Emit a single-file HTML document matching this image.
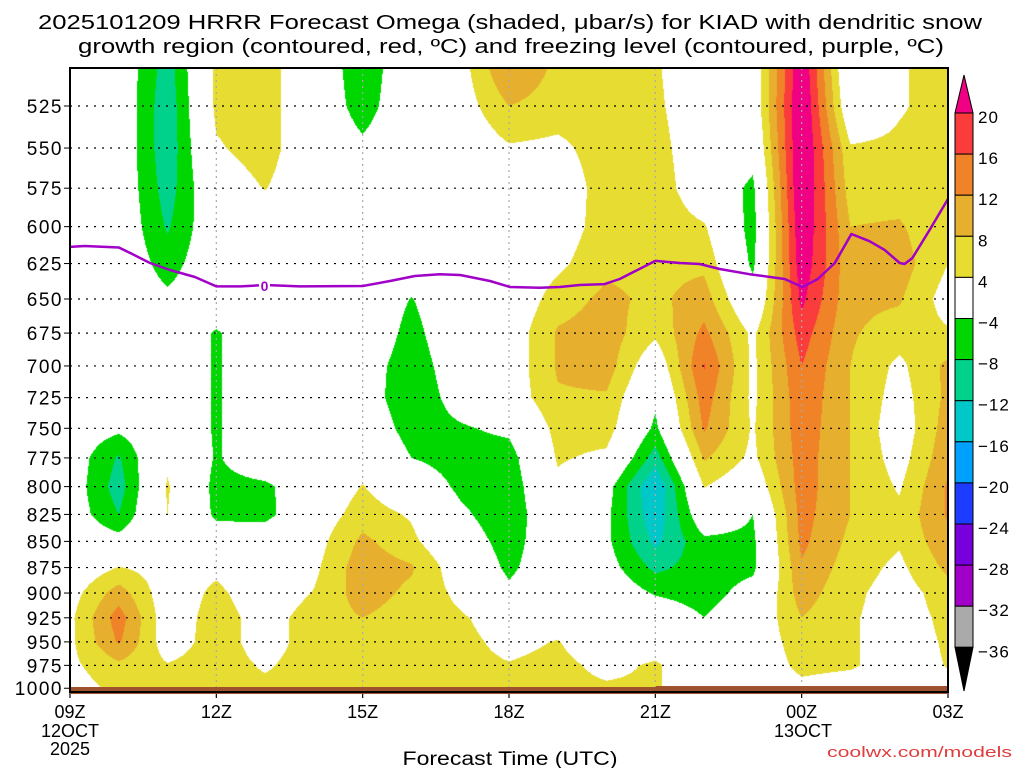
<!DOCTYPE html>
<html><head><meta charset="utf-8"><style>
html,body{margin:0;padding:0;background:#fff;}
#wrap{position:relative;width:1024px;height:768px;overflow:hidden;font-family:"Liberation Sans",sans-serif;}
#field{position:absolute;left:70px;top:68px;}
#ov{position:absolute;left:0;top:0;}
</style></head><body>
<div id="wrap">
<canvas id="field" width="878" height="624"></canvas>
<svg id="ov" width="1024" height="768"></svg>
</div>
<script>
// ---- data ----
const levels = [500,525,550,575,600,625,650,675,700,725,750,775,800,825,850,875,900,925,950,975,1000];
const hourLabels = ["09Z","12Z","15Z","18Z","21Z","00Z","03Z"];
const yTickLevels = [525,550,575,600,625,650,675,700,725,750,775,800,825,850,875,900,925,950,975,1000];
const cbBounds = [20,16,12,8,4,-4,-8,-12,-16,-20,-24,-28,-32,-36];
const h00 = [0,0,0,0,0,0,0,0,0,0,-1,-1,-1,-1,0,0,2,3,3,3,2];
const h01 = [0,0,0,0,0,0,0,0,0,0,-3,-8.5,-10,-8,-2,4.2,10,14,12.5,7,5];
const h02 = [-10,-11,-11,-10,-8.5,-6,-3,0,0,0,0,3,4.5,4,2,2,1,1,1.5,4.3,5];
const h03 = [5,5,3.5,1,0,0,0,-4.5,-4.5,-4.5,-4.5,-4.5,-5.5,-5,-1,3,5,6,6,6,5];
const h04 = [6,6,6,4.2,0,0,0,0,0,0,0,0,-5,-5.5,0,0,1,2,2,3.5,5];
const h05 = [0,0,0,0,0,0,0,0,0,0,0,0,0,1,2,3,4.2,6,6,6,5];
const h06 = [-7,-6,-3,0,0,0,0,0,-1.5,-1.5,0,2,4.2,6,9,10.5,10,8,6,6,5];
const h07 = [0,0,0,0,0,0,-4.2,-5.5,-6.5,-7,-6,-4,0,3.5,5,8.5,7,6,5,5,5];
const h08 = [2,1.5,0,0,0,0,0,0,-1,-2,-4.5,-6,-5,-3,-1,1,3,4.5,5,5,5];
const h09 = [13,8,3.5,0,0,0,0,1,1,1,-3,-6,-7,-7,-6,-5,-3,2,3,4.2,5];
const h10 = [7,6,3,1,1.5,3,6,8.5,8.5,7.5,5.5,4.5,3,1,0,0,1,2,4.2,5,5];
const h11 = [6,6,6,6,6,7,9,10,10,7.5,6,3,-2,-3,-3,-2,0,0,1,3,4.5];
const h12 = [4.5,5,6,7,7,7,7,5,0,-3,-5,-10,-16.3,-15,-13,-9,-4.5,0,2,4.5,4.5];
const h13 = [0,0,0,0,4.5,7,10,13,16.3,14,12.5,8.5,4.2,0,-5,-6,-6,-4,0,1,1];
const h14 = [0,0,-2,-5,-6,-5,-2,3,3,3,3.5,3,0,-4,-5,-5,-2,0,1,1,1];
const h15 = [24,25,25,25,24,23,21,18,16,15,14.5,14,14,13.5,13,11.5,10,8,6,5,3];
const h16 = [-3,-1,4.5,6,8,9,9,8.5,8,8,8,8,8,8,7,6,5,4.5,4.5,4.5,2];
const h17 = [3.5,3.5,5,6,8.5,10,8.5,6,3,2,1,2,3.5,5,4.5,3,2,2,2,2,1];
const h18 = [6,6,5,5,4.5,4,2,4.5,9,9,10,11,12.5,12.5,11,9,6,5,4.5,4.2,3];
const omegaColumns = [h00,h01,h02,h03,h04,h05,h06,h07,h08,h09,h10,h11,h12,h13,h14,h15,h16,h17,h18];
const frzHours = [0,0.3,1.0,1.23,1.64,2.05,2.56,3.0,3.5,4.0,4.71,6.0,6.56,7.07,7.58,8.0,8.61,9.02,9.63,10.04,10.45,10.96,11.27,12.0,12.5,12.91,13.32,13.93,14.65,15.02,15.33,15.68,16.02,16.39,16.7,17.01,17.11,17.27,17.62,18.0];
const frzPres = [613.6,613,614,617.7,624.6,629.5,634.4,641,641,640,641,640.7,637.2,633.7,632.4,633,637.2,641.4,642,641.4,640,639.4,635.8,623.2,624.6,625.3,628.8,632.4,635.8,641.4,635.8,624.6,604.9,609.7,615.6,624.6,625.3,621.2,602.3,581.9];

// ---- axes ----
const X0=70, X1=948, Y0=68, Y1=692, PXH=(X1-X0)/18;
function xOf(h){return X0+h*PXH;}
function yOf(p){return 106+903.6*Math.log(p/525);}
function pOf(y){return 525*Math.exp((y-106)/903.6);}
const fillCols=[[0,0,0],[170,170,170],[160,0,200],[120,0,220],[30,60,255],[0,160,255],[0,200,200],[0,210,140],[0,215,0],[255,255,255],[230,220,50],[230,175,45],[240,130,40],[250,60,60],[240,0,130]];
function binColor(v){
  const b=[-36,-32,-28,-24,-20,-16,-12,-8,-4,4,8,12,16,20];
  let i=0; while(i<b.length && v>=b[i]) i++; return fillCols[i];
}
function sample(h,p){
  let hi=Math.max(0,Math.min(18,h)), pi=Math.max(0,Math.min(20,(p-500)/25));
  let h0=Math.min(17,Math.floor(hi)), p0=Math.min(19,Math.floor(pi));
  let th=hi-h0, tp=pi-p0;
  const a=omegaColumns[h0][p0], b=omegaColumns[h0+1][p0], c=omegaColumns[h0][p0+1], d=omegaColumns[h0+1][p0+1];
  return (a*(1-th)+b*th)*(1-tp)+(c*(1-th)+d*th)*tp;
}
// ---- shaded field ----
const cv=document.getElementById('field'), ctx=cv.getContext('2d');
const img=ctx.createImageData(cv.width,cv.height);
for(let j=0;j<cv.height;j++){
  const p=pOf(Y0+j+0.5);
  for(let i=0;i<cv.width;i++){
    const h=(i+0.5)/PXH;
    const c=binColor(sample(h,p));
    const k=(j*cv.width+i)*4;
    img.data[k]=c[0];img.data[k+1]=c[1];img.data[k+2]=c[2];img.data[k+3]=255;
  }
}
ctx.putImageData(img,0,0);

// ---- svg overlay ----
const NS="http://www.w3.org/2000/svg", svg=document.getElementById('ov');
function mk(tag,attrs,parent){const e=document.createElementNS(NS,tag);for(const k in attrs)e.setAttribute(k,attrs[k]);(parent||svg).appendChild(e);return e;}
function txt(s,attrs){const e=mk('text',attrs);e.textContent=s;return e;}

// grid
yTickLevels.forEach(p=>{
  if(p<1000){
    const l=mk('line',{x1:X0,x2:X1,y1:yOf(p),y2:yOf(p),stroke:'#000','stroke-width':1.2,'stroke-dasharray':'2,6'});
    
    
  }
  const t=mk('line',{x1:X0-6,x2:X0,y1:yOf(p),y2:yOf(p),stroke:'#000','stroke-width':1});
  
  
  const lb=txt(String(p),{x:63,y:yOf(p)+7,'text-anchor':'end','font-size':19,'letter-spacing':'1.5','fill':'#000'});
  
  
});
hourLabels.forEach((s,i)=>{
  const x=xOf(i*3);
  if(i>0&&i<6){
    const v=mk('line',{x1:x,x2:x,y1:Y0,y2:Y1,stroke:'#aaa','stroke-width':1.2,'stroke-dasharray':'2,4'});
    
    
  }
  const tk=mk('line',{x1:x,x2:x,y1:Y1,y2:Y1+6,stroke:'#000','stroke-width':1.2});
  
  
  const lb=txt(s,{x:x,y:718,'text-anchor':'middle','font-size':18,'fill':'#000'});
  
  
});
[['12OCT',70,737],['2025',70,755],['13OCT',803,737]].forEach(a=>{
  const e=txt(a[0],{x:a[1],y:a[2],'text-anchor':'middle','font-size':18,'fill':'#000'});
  
  
});
// ground
const g1=mk('rect',{x:X0,y:687,width:656-X0,height:7,fill:'#a0522d'});


const g2=mk('rect',{x:656,y:686,width:X1-656,height:8,fill:'#a0522d'});


// freezing line
let d='';
frzHours.forEach((h,i)=>{d+=(i?'L':'M')+xOf(h).toFixed(1)+','+yOf(frzPres[i]).toFixed(1);});
const fl=mk('path',{d:d,fill:'none',stroke:'#a000c8','stroke-width':2.5,'stroke-linejoin':'round'});


const fb=mk('rect',{x:259,y:278,width:11,height:15,fill:'#fff'});


const flb=txt('0',{x:264.5,y:291,'text-anchor':'middle','font-size':14,'font-weight':'bold','fill':'#a000c8'});


// frame
const fr=mk('rect',{x:X0,y:Y0,width:X1-X0,height:Y1-Y0,fill:'none',stroke:'#000','stroke-width':2});


// colorbar
const CBX=955, CBW=18, CBT=113, CBS=41.1;
const tri1=mk('polygon',{points:`${CBX},${CBT} ${CBX+CBW},${CBT} ${CBX+CBW/2},75`,fill:'rgb(240,0,130)',stroke:'#000','stroke-width':1});


for(let k=0;k<cbBounds.length-1;k++){
  const c=fillCols[13-k];
  const r=mk('rect',{x:CBX,y:CBT+k*CBS,width:CBW,height:CBS,fill:`rgb(${c[0]},${c[1]},${c[2]})`,stroke:'#000','stroke-width':1});
  
  
}
const yb=CBT+(cbBounds.length-1)*CBS;
const tri2=mk('polygon',{points:`${CBX},${yb} ${CBX+CBW},${yb} ${CBX+CBW/2},691`,fill:'#000',stroke:'#000','stroke-width':1});


cbBounds.forEach((v,k)=>{
  const s=v<0?'\u2212'+Math.abs(v):String(v);
  const e=txt(s,{x:978,y:CBT+k*CBS+10,'font-size':17,'letter-spacing':'1','fill':'#000'});
  
  
});
// titles
const t1=txt('2025101209 HRRR Forecast Omega (shaded, \u03bcbar/s) for KIAD with dendritic snow',{x:510,y:29,'text-anchor':'middle','font-size':20,'textLength':944,'lengthAdjust':'spacingAndGlyphs','fill':'#000'});


const t2=txt('growth region (contoured, red, \u00baC) and freezing level (contoured, purple, \u00baC)',{x:511,y:53,'text-anchor':'middle','font-size':20,'textLength':866,'lengthAdjust':'spacingAndGlyphs','fill':'#000'});


const xt=txt('Forecast Time (UTC)',{x:510,y:765,'text-anchor':'middle','font-size':19,'textLength':215,'lengthAdjust':'spacingAndGlyphs','fill':'#000'});


const cr=txt('coolwx.com/models',{x:1012,y:757,'text-anchor':'end','font-size':15,'textLength':185,'lengthAdjust':'spacingAndGlyphs','fill':'#e03c3c'});


</script>
</body></html>
